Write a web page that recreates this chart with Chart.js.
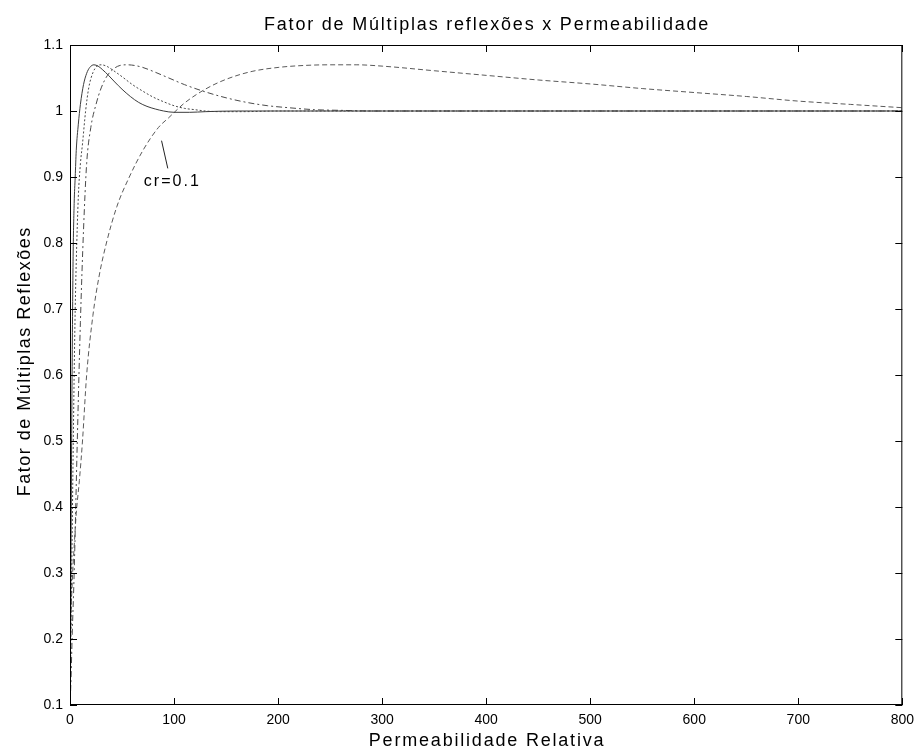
<!DOCTYPE html>
<html lang="pt">
<head>
<meta charset="UTF-8" />
<title>Fator de Múltiplas reflexões x Permeabilidade</title>
<script src="https://cdn.jsdelivr.net/npm/chart.js"></script>
<style>
  html, body { margin: 0; padding: 0; background: #fff; }
  #chart { display: block; }
</style>
</head>
<body>
<canvas id="chart" width="921" height="756"></canvas>
<script>
// permeabilidade relativa (x) e fator de multiplas reflexoes (y) para cada curva
const xA = [0, 0.5, 1, 1.5, 2, 3, 4, 5, 6, 8, 10, 13, 16, 19, 23, 27, 31, 37, 43, 50, 58, 66, 74, 82, 90, 100, 115, 130, 160, 200, 300, 400, 500, 600, 700, 800];
const yA = [0.1, 0.2, 0.35, 0.48, 0.6, 0.78, 0.86, 0.9, 0.94, 0.98, 1.01, 1.04, 1.057, 1.066, 1.07, 1.068, 1.063, 1.054, 1.044, 1.033, 1.022, 1.013, 1.007, 1.003, 1.0, 0.998, 0.998, 0.999, 1.0, 1.0, 1.0, 1.0, 1.0, 1.0, 1.0, 1.0];

const xB = [0, 0.5, 1, 2, 3, 4, 5, 6, 8, 10, 12, 15, 18, 22, 26, 30, 35, 42, 50, 60, 70, 80, 90, 100, 110, 120, 130, 145, 165, 200, 400, 800];
const yB = [0.1, 0.15, 0.22, 0.35, 0.48, 0.6, 0.7, 0.77, 0.87, 0.92, 0.95, 1.0, 1.035, 1.058, 1.068, 1.07, 1.068, 1.061, 1.052, 1.04, 1.03, 1.021, 1.014, 1.008, 1.004, 1.002, 1.0, 0.999, 0.999, 1.0, 1.0, 1.0];

const xC = [0, 1, 2, 4, 7, 10, 13, 16, 20, 25, 30, 36, 42, 48, 55, 62, 70, 80, 95, 110, 130, 150, 170, 190, 210, 235, 260, 290, 330, 400, 800];
const yC = [0.1, 0.14, 0.2, 0.3, 0.5, 0.68, 0.82, 0.92, 0.975, 1.01, 1.035, 1.054, 1.064, 1.069, 1.07, 1.069, 1.066, 1.06, 1.05, 1.04, 1.029, 1.02, 1.013, 1.008, 1.005, 1.002, 1.001, 1.0, 1.0, 1.0, 1.0];

// cr = 0.1
const xD = [0, 0.5, 2, 4, 6, 9, 12, 16, 22, 28, 35, 45, 57, 70, 85, 95, 110, 130, 150, 175, 200, 225, 250, 275, 300, 350, 400, 450, 500, 550, 600, 650, 700, 750, 800];
const yD = [0.12, 0.2, 0.28, 0.34, 0.39, 0.44, 0.5, 0.6, 0.69, 0.75, 0.8, 0.855, 0.9, 0.94, 0.975, 0.99, 1.012, 1.033, 1.048, 1.06, 1.066, 1.069, 1.07, 1.07, 1.068, 1.061, 1.054, 1.047, 1.041, 1.034, 1.028, 1.022, 1.015, 1.01, 1.005];

const xTicks = [0, 100, 200, 300, 400, 500, 600, 700, 800];
const yTicks = [0.1, 0.2, 0.3, 0.4, 0.5, 0.6, 0.7, 0.8, 0.9, 1.0, 1.1];

const titulo = 'Fator de Múltiplas reflexões x Permeabilidade';
const rotuloX = 'Permeabilidade Relativa';
const rotuloY = 'Fator de Múltiplas Reflexões';
const nota = 'cr=0.1';

const FONT = '"Liberation Sans", Arial, sans-serif';

function pts(xs, ys) {
  return xs.map((x, i) => ({ x: x, y: ys[i] }));
}

function serie(xs, ys, dash, cor) {
  return {
    data: pts(xs, ys),
    borderColor: cor,
    borderWidth: 1,
    borderDash: dash,
    pointRadius: 0,
    fill: false,
    cubicInterpolationMode: 'monotone'
  };
}

// texto com espacamento entre letras, alinhado pelo centro ou pela esquerda
function espacado(c, txt, x, y, sp, centro) {
  const chars = Array.from(txt);
  const ws = chars.map(ch => c.measureText(ch).width);
  const total = ws.reduce((s, w) => s + w, 0) + sp * (chars.length - 1);
  let px = centro ? x - total / 2 : x;
  c.textAlign = 'left';
  chars.forEach((ch, i) => {
    c.fillText(ch, px, y);
    px += ws[i] + sp;
  });
}

// caixa, ticks para dentro, titulos e a anotacao
const moldura = {
  id: 'moldura',
  afterDatasetsDraw(chart) {
    const c = chart.ctx;
    const a = chart.chartArea;
    const sx = chart.scales.x;
    const sy = chart.scales.y;
    c.save();
    c.strokeStyle = '#000';
    c.lineWidth = 1;
    c.strokeRect(a.left + 0.5, a.top + 0.5, a.right - a.left - 1, a.bottom - a.top - 1);
    c.beginPath();
    const tl = 7;
    xTicks.forEach(v => {
      const p = Math.round(sx.getPixelForValue(v)) + 0.5;
      c.moveTo(p, a.bottom); c.lineTo(p, a.bottom - tl);
      c.moveTo(p, a.top); c.lineTo(p, a.top + tl);
    });
    yTicks.forEach(v => {
      const p = Math.round(sy.getPixelForValue(v)) + 0.5;
      c.moveTo(a.left, p); c.lineTo(a.left + tl, p);
      c.moveTo(a.right, p); c.lineTo(a.right - tl, p);
    });
    c.stroke();

    // anotacao da curva cr=0.1
    c.strokeStyle = '#222';
    c.beginPath();
    c.moveTo(sx.getPixelForValue(88), sy.getPixelForValue(0.955));
    c.lineTo(sx.getPixelForValue(94), sy.getPixelForValue(0.913));
    c.stroke();
    c.fillStyle = '#000';
    c.textBaseline = 'middle';
    c.font = '16px ' + FONT;
    espacado(c, nota, sx.getPixelForValue(71), sy.getPixelForValue(0.893), 2, false);

    // titulo e rotulos dos eixos
    c.font = '18px ' + FONT;
    const cx = (a.left + a.right) / 2;
    espacado(c, titulo, cx, 25, 1.8, true);
    espacado(c, rotuloX, cx, 741, 1.8, true);
    c.translate(25, 362);
    c.rotate(-Math.PI / 2);
    espacado(c, rotuloY, 0, 0, 1.5, true);
    c.restore();
  }
};

new Chart(document.getElementById('chart'), {
  type: 'line',
  data: {
    datasets: [
      serie(xA, yA, [], '#3c3c3c'),
      serie(xB, yB, [2, 2], '#4a4a4a'),
      serie(xC, yC, [6, 3, 2, 3], '#4a4a4a'),
      serie(xD, yD, [5, 3], '#5a5a5a')
    ]
  },
  options: {
    responsive: false,
    animation: false,
    layout: { padding: { top: 45, right: 13, left: 0, bottom: 0 } },
    plugins: { legend: { display: false }, tooltip: { enabled: false }, title: { display: false } },
    scales: {
      x: {
        type: 'linear',
        min: 0,
        max: 800,
        afterBuildTicks(s) { s.ticks = xTicks.map(v => ({ value: v })); },
        ticks: { color: '#000', font: { family: FONT, size: 14 }, padding: 7, maxRotation: 0 },
        grid: { display: false, drawTicks: false },
        border: { display: false },
        afterFit(s) { s.height = 756 - 45 - 660; }
      },
      y: {
        type: 'linear',
        min: 0.1,
        max: 1.1,
        afterBuildTicks(s) { s.ticks = yTicks.map(v => ({ value: v })); },
        ticks: {
          color: '#000',
          font: { family: FONT, size: 14 },
          padding: 7,
          callback: v => String(+v.toFixed(1))
        },
        grid: { display: false, drawTicks: false },
        border: { display: false },
        afterFit(s) { s.width = 70; }
      }
    }
  },
  plugins: [moldura]
});
</script>
</body>
</html>
